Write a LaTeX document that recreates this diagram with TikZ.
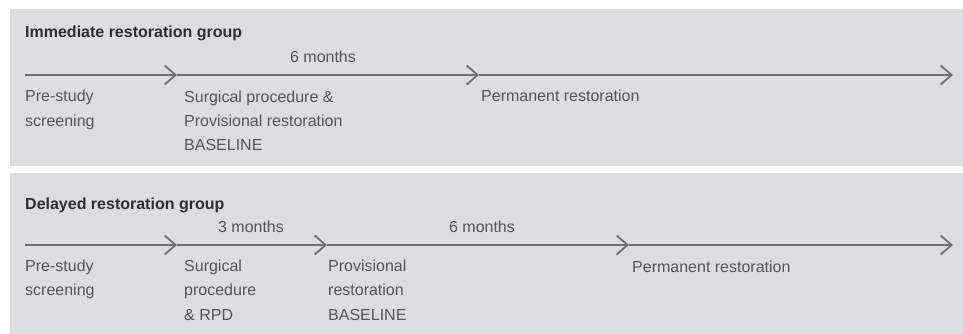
\documentclass[tikz,border=0pt]{standalone}
\usepackage{fontspec}
\setmainfont{Liberation Sans}
\usetikzlibrary{arrows.meta}
\definecolor{panelbg}{HTML}{DCDDDF}
\definecolor{linegray}{HTML}{6F6F70}
\definecolor{txtgray}{HTML}{555556}
\definecolor{titlegray}{HTML}{2E2E2F}
\tikzset{
  panel/.style={fill=panelbg, draw=none},
  tl/.style={draw=linegray, line width=1.8pt, -{Straight Barb[length=11pt,width=19pt,line width=1.8pt]}},
  lbl/.style={anchor=base west, inner sep=0pt, text=txtgray, font=\fontsize{16}{24.2}\selectfont, align=left},
  dur/.style={anchor=base, inner sep=0pt, text=txtgray, font=\fontsize{16}{24}\selectfont},
  grp/.style={anchor=base west, inner sep=0pt, text=titlegray, font=\fontsize{16}{18}\selectfont\bfseries},
}
\begin{document}
\begin{tikzpicture}[x=1pt,y=-1pt]
\useasboundingbox (0,0) rectangle (963,334);
\fill[white] (0,0) rectangle (963,334);
% panels
\path[panel] (10,9) rectangle (963,166);
\path[panel] (10,173) rectangle (963,334);

% ---- Immediate restoration group (base anchor = last line's baseline)
\node[grp] (t1) at (25,38) {Immediate restoration group};
\coordinate (a0) at (25,75);
\coordinate (a1) at (177,75);
\coordinate (a2) at (479,75);
\coordinate (a3) at (953,75);
\draw[tl] (a0) -- (a1);
\draw[tl] (a1) -- (a2);
\draw[tl] (a2) -- (a3);
\node[dur] (d1) at (323,63) {6 months};
\node[lbl] (l11) at (25,126) {Pre-study\\screening};
\node[lbl] (l12) at (184,150.5) {Surgical procedure \&\\Provisional restoration\\BASELINE};
\node[lbl] (l13) at (481,102) {Permanent restoration};

% ---- Delayed restoration group
\node[grp] (t2) at (25,209) {Delayed restoration group};
\coordinate (b0) at (25,245);
\coordinate (b1) at (177,245);
\coordinate (b2) at (327,245);
\coordinate (b3) at (629,245);
\coordinate (b4) at (953,245);
\draw[tl] (b0) -- (b1);
\draw[tl] (b1) -- (b2);
\draw[tl] (b2) -- (b3);
\draw[tl] (b3) -- (b4);
\node[dur] (d2) at (251,232) {3 months};
\node[dur] (d3) at (482,232) {6 months};
\node[lbl] (l21) at (25,295.5) {Pre-study\\screening};
\node[lbl] (l22) at (184,320) {Surgical\\procedure\\\& RPD};
\node[lbl] (l23) at (328,320) {Provisional\\restoration\\BASELINE};
\node[lbl] (l24) at (632,272) {Permanent restoration};
\end{tikzpicture}
\end{document}
